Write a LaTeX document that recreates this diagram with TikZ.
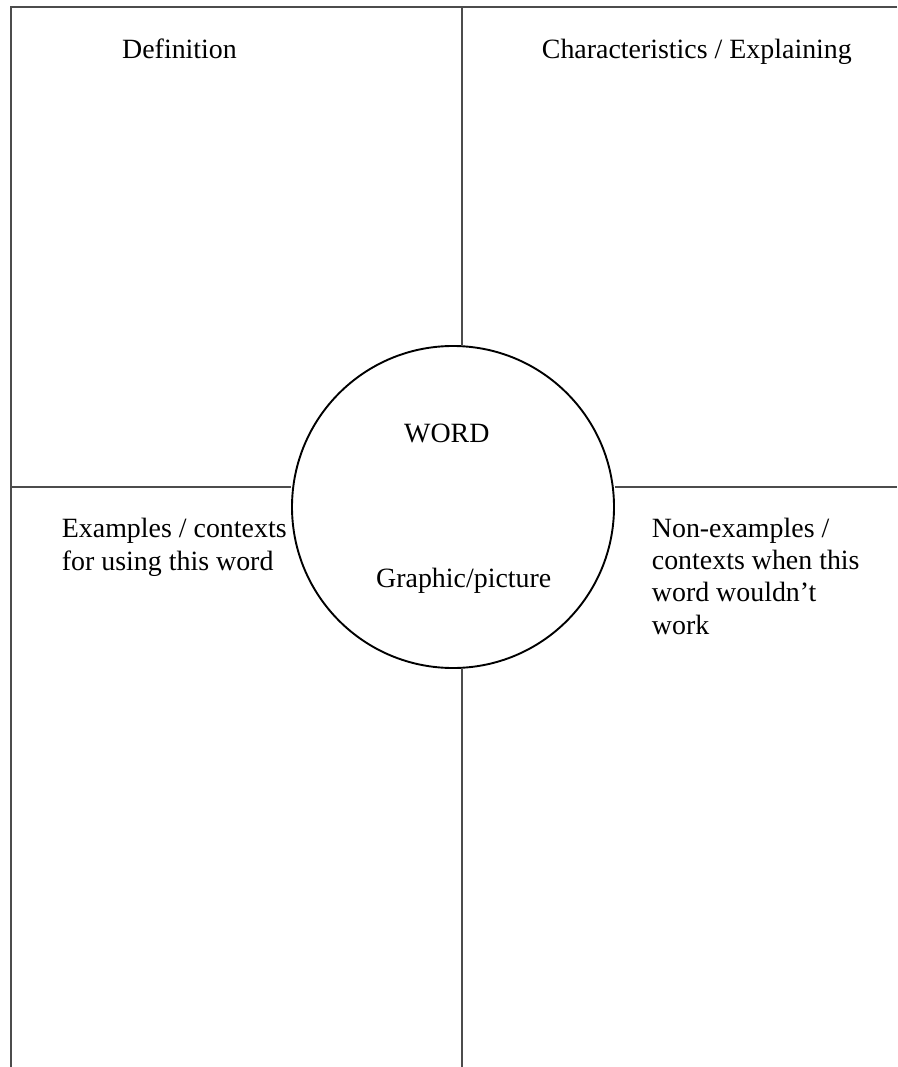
\documentclass[tikz,border=0pt]{standalone}
\usepackage{fontspec}
\setmainfont{Liberation Serif}
\usetikzlibrary{positioning}

\tikzset{
  frame/.style={draw=black!70, line width=1.9pt},
  label/.style={inner sep=0pt, anchor=base west, align=left, font=\fontsize{27.9}{32.3}\selectfont},
  wordcircle/.style={draw=black, line width=1.9pt, circle, minimum size=322pt, inner sep=0pt}
}

\begin{document}
\begin{tikzpicture}[x=1pt,y=-1pt]
  \useasboundingbox (0,0) rectangle (897,1067);
  % corner points of the sheet
  \coordinate (TL) at (10.7,6.7);
  \coordinate (TR) at (897,6.7);
  \coordinate (BL) at (10.7,1067);
  \coordinate (TM) at (461.7,6.7);
  \coordinate (BM) at (461.7,1067);
  \coordinate (ML) at (10.7,487);
  \coordinate (MR) at (897,487);

  \node[wordcircle] (WORD) at (453,507) {};

  \draw[frame] (TR) -- (TL) -- (BL);
  \draw[frame] (TM) -- (TM |- WORD.north);
  \draw[frame] (BM |- WORD.south) -- (BM);
  \draw[frame] (ML) -- (ML -| WORD.west);
  \draw[frame] (MR -| WORD.east) -- (MR);

  % multi-line labels sit on their last baseline
  \node[label] (DEF)  at (122,59)   {Definition};
  \node[label] (CHAR) at (541.7,59) {Characteristics / Explaining};
  \node[label] (TERM) at (404,442) {WORD};
  \node[label] (PIC)  at (376,587)  {Graphic/picture};
  \node[label] (EX)   at (61.7,570) {Examples / contexts\\for using this word};
  \node[label] (NONEX) at (651.7,634) {Non-examples /\\contexts when this\\word wouldn’t\\work};
\end{tikzpicture}
\end{document}
